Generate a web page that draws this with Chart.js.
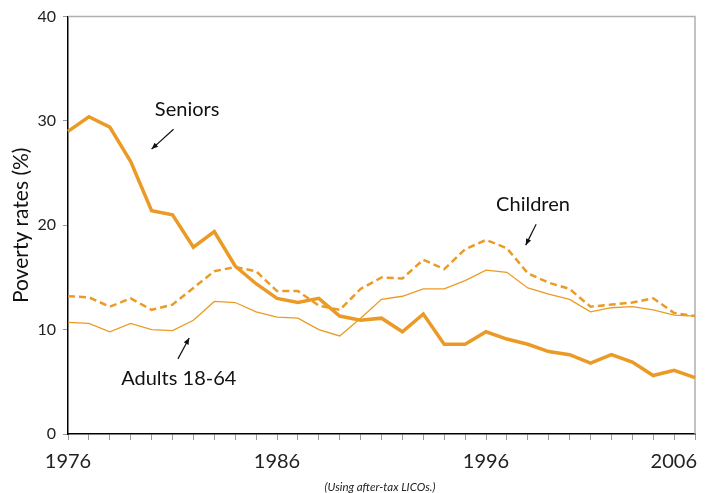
<!DOCTYPE html>
<html>
<head>
<meta charset="utf-8">
<script src="https://cdn.jsdelivr.net/npm/chart.js@4/dist/chart.umd.min.js"></script>
<style>
    html, body { margin: 0; padding: 0; background: #fff; }
    #wrap { width: 710px; height: 493px; position: relative; }
</style>
</head>
<body>
<div id="wrap"><canvas id="povertyChart"></canvas></div>
<script>
"use strict";

var years = [];
for (var y = 1976; y <= 2006; y++) years.push(String(y));

var seniors = [29.0, 30.4, 29.4, 26.1, 21.4, 21.0, 17.9, 19.4, 16.1, 14.4,
    13.0, 12.6, 13.0, 11.3, 10.9, 11.1, 9.8, 11.5, 8.6, 8.6,
    9.8, 9.1, 8.6, 7.9, 7.6, 6.8, 7.6, 6.9, 5.6, 6.1, 5.4];

var children = [13.2, 13.1, 12.2, 13.0, 11.9, 12.4, 14.0, 15.6, 16.0, 15.6,
    13.7, 13.7, 12.3, 11.9, 13.9, 15.0, 14.9, 16.7, 15.8, 17.7,
    18.6, 17.8, 15.4, 14.5, 13.9, 12.2, 12.4, 12.6, 13.0, 11.6, 11.3];

var adults = [10.7, 10.6, 9.8, 10.6, 10.0, 9.9, 10.9, 12.7, 12.6, 11.7,
    11.2, 11.1, 10.0, 9.4, 11.1, 12.9, 13.2, 13.9, 13.9, 14.7,
    15.7, 15.5, 14.0, 13.4, 12.9, 11.7, 12.1, 12.2, 11.9, 11.4, 11.3];

var yearLabels = ["1976", "1986", "1996", "2006"];

// callouts: text position and arrow (from -> to), in year index / value units
var callouts = [
    { text: "Seniors", at: [5.7, 31.1], from: [5.05, 29.2], to: [4.0, 27.3] },
    { text: "Children", at: [22.25, 22.0], from: [22.4, 20.1], to: [21.9, 18.1] },
    { text: "Adults 18-64", at: [5.3, 5.35], from: [5.26, 7.2], to: [5.8, 9.2] }
];

var orange = "#EB9A26";
var fontFamily = "Lato, 'Open Sans', sans-serif";

var frame = {
    id: "frame",
    beforeDatasetsDraw: function (chart) {
        var a = chart.chartArea, c = chart.ctx;
        c.save();
        c.strokeStyle = "#b0b0b0";
        c.lineWidth = 1.5;
        c.beginPath();
        c.moveTo(a.left, a.top);
        c.lineTo(a.right, a.top);
        c.lineTo(a.right, a.bottom);
        c.stroke();
        c.restore();
    },
    afterDraw: function (chart) {
        var c = chart.ctx, xs = chart.scales.x, ys = chart.scales.y;
        c.save();
        // year labels (last one kept inside the canvas)
        c.fillStyle = "#222";
        c.font = "20px " + fontFamily;
        c.textBaseline = "middle";
        yearLabels.forEach(function (lab) {
            var px = xs.getPixelForValue(years.indexOf(lab));
            var w = c.measureText(lab).width;
            var left = Math.min(px - w / 2, chart.width - 13 - w);
            left = Math.max(left, 2);
            c.textAlign = "left";
            c.fillText(lab, left, chart.chartArea.bottom + 28);
        });
        // footnote
        c.font = "italic 11.5px " + fontFamily;
        c.textAlign = "center";
        c.fillText("(Using after-tax LICOs.)", 380, 487);
        // callouts
        c.font = "20px " + fontFamily;
        callouts.forEach(function (co) {
            var tx = xs.getPixelForValue(co.at[0]), ty = ys.getPixelForValue(co.at[1]);
            c.fillStyle = "#111";
            c.textAlign = "center";
            c.fillText(co.text, tx, ty);
            var x1 = xs.getPixelForValue(co.from[0]), y1 = ys.getPixelForValue(co.from[1]);
            var x2 = xs.getPixelForValue(co.to[0]), y2 = ys.getPixelForValue(co.to[1]);
            c.strokeStyle = "#111";
            c.lineWidth = 1.2;
            c.beginPath();
            c.moveTo(x1, y1);
            c.lineTo(x2, y2);
            c.stroke();
            var ang = Math.atan2(y2 - y1, x2 - x1), h = 7;
            c.beginPath();
            c.moveTo(x2, y2);
            c.lineTo(x2 - h * Math.cos(ang - 0.4), y2 - h * Math.sin(ang - 0.4));
            c.lineTo(x2 - h * Math.cos(ang + 0.4), y2 - h * Math.sin(ang + 0.4));
            c.closePath();
            c.fill();
        });
        c.restore();
    }
};

var ctx = document.getElementById("povertyChart");
var povertyChart = new Chart(ctx, {
    type: "line",
    data: {
        labels: years,
        datasets: [{
            label: "Seniors",
            data: seniors,
            borderColor: orange,
            borderWidth: 3.5,
            pointRadius: 0,
            tension: 0
        }, {
            label: "Children",
            data: children,
            borderColor: orange,
            borderWidth: 2.5,
            borderDash: [7, 4],
            pointRadius: 0,
            tension: 0
        }, {
            label: "Adults 18-64",
            data: adults,
            borderColor: orange,
            borderWidth: 1.3,
            pointRadius: 0,
            tension: 0
        }]
    },
    options: {
        responsive: true,
        maintainAspectRatio: false,
        animation: false,
        layout: { padding: { top: 14, right: 15, bottom: 14, left: 0 } },
        plugins: {
            legend: { display: false },
            tooltip: { enabled: false }
        },
        scales: {
            x: {
                type: "category",
                offset: false,
                border: { color: "#000", width: 1.5 },
                grid: { drawOnChartArea: false, color: "#999", tickLength: 6 },
                ticks: {
                    autoSkip: false,
                    maxRotation: 0,
                    callback: function () { return ""; }
                },
                afterFit: function (scale) { scale.height = 45; scale.paddingLeft = 0; scale.paddingRight = 0; }
            },
            y: {
                min: 0,
                max: 40,
                border: { color: "#000", width: 1.5 },
                grid: { drawOnChartArea: false, color: "#999", tickLength: 5 },
                ticks: {
                    stepSize: 10,
                    padding: 7,
                    color: "#222",
                    font: { family: fontFamily, size: 16 }
                },
                title: {
                    display: true,
                    text: "Poverty rates (%)",
                    color: "#111",
                    padding: { top: 9, bottom: 0 },
                    font: { family: fontFamily, size: 21 }
                },
                afterFit: function (scale) { scale.width = 68; }
            }
        }
    },
    plugins: [frame]
});
</script>
</body>
</html>
